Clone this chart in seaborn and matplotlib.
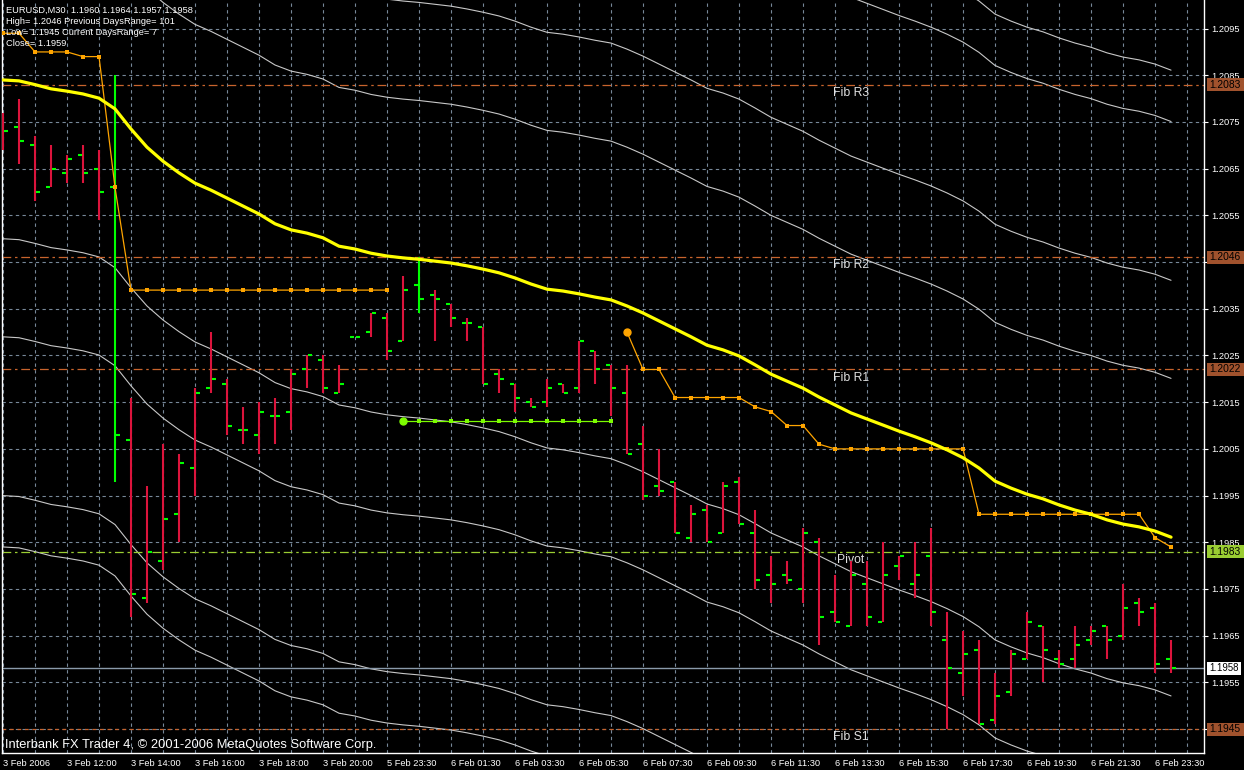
import numpy as np
import matplotlib.pyplot as plt
import matplotlib.transforms as mtrans
from matplotlib.patches import Rectangle
import seaborn as sns

# EURUSD M30 bars, 3 Feb 10:00 -> 6 Feb 24:00
opens = [1.2071, 1.2074, 1.2070, 1.2061, 1.2064, 1.2068, 1.2065, 1.2061, 1.2007, 1.1973,
         1.1981, 1.1991, 1.2001, 1.2018, 1.2019, 1.2009, 1.2008, 1.2012, 1.2013, 1.2022,
         1.2024, 1.2017, 1.2029, 1.2030, 1.2033, 1.2028, 1.2040, 1.2038, 1.2036, 1.2032,
         1.2031, 1.2021, 1.2019, 1.2015, 1.2015, 1.2019, 1.2018, 1.2026, 1.2023, 1.2017,
         1.2006, 1.1997, 1.1998, 1.1986, 1.1992, 1.1987, 1.1998, 1.1987, 1.1978, 1.1978,
         1.1975, 1.1985, 1.1970, 1.1967, 1.1976, 1.1968, 1.1980, 1.1976, 1.1982, 1.1964,
         1.1957, 1.1962, 1.1947, 1.1953, 1.1960, 1.1967, 1.1960, 1.1960, 1.1964, 1.1967,
         1.1965, 1.1972, 1.1971, 1.1960]
highs = [1.2077, 1.2080, 1.2072, 1.2070, 1.2068, 1.2070, 1.2069, 1.2085, 1.2016, 1.1997,
         1.2006, 1.2004, 1.2018, 1.2030, 1.2020, 1.2014, 1.2015, 1.2016, 1.2022, 1.2025,
         1.2025, 1.2023, 1.2029, 1.2034, 1.2034, 1.2042, 1.2046, 1.2039, 1.2036, 1.2033,
         1.2031, 1.2022, 1.2019, 1.2016, 1.2020, 1.2019, 1.2028, 1.2026, 1.2023, 1.2023,
         1.2010, 1.2005, 1.1998, 1.1993, 1.1993, 1.1998, 1.1999, 1.1992, 1.1982, 1.1981,
         1.1988, 1.1986, 1.1978, 1.1981, 1.1981, 1.1985, 1.1982, 1.1985, 1.1988, 1.1970,
         1.1966, 1.1964, 1.1957, 1.1962, 1.1970, 1.1967, 1.1962, 1.1967, 1.1967, 1.1967,
         1.1976, 1.1973, 1.1972, 1.1964]
lows = [1.2069, 1.2066, 1.2058, 1.2061, 1.2062, 1.2062, 1.2054, 1.1998, 1.1969, 1.1972,
        1.1979, 1.1985, 1.1995, 1.2017, 1.2008, 1.2006, 1.2004, 1.2006, 1.2009, 1.2018,
        1.2017, 1.2017, 1.2029, 1.2029, 1.2024, 1.2028, 1.2034, 1.2028, 1.2031, 1.2028,
        1.2019, 1.2017, 1.2013, 1.2014, 1.2014, 1.2017, 1.2017, 1.2019, 1.2012, 1.2004,
        1.1994, 1.1995, 1.1987, 1.1985, 1.1985, 1.1987, 1.1989, 1.1975, 1.1972, 1.1976,
        1.1972, 1.1963, 1.1968, 1.1967, 1.1967, 1.1968, 1.1977, 1.1973, 1.1967, 1.1945,
        1.1952, 1.1946, 1.1946, 1.1952, 1.1960, 1.1955, 1.1958, 1.1958, 1.1963, 1.1960,
        1.1964, 1.1967, 1.1957, 1.1957]
closes = [1.2073, 1.2071, 1.2060, 1.2065, 1.2067, 1.2064, 1.2060, 1.2008, 1.1974, 1.1983,
          1.1990, 1.2002, 1.2017, 1.2020, 1.2010, 1.2009, 1.2013, 1.2012, 1.2021, 1.2025,
          1.2018, 1.2019, 1.2029, 1.2034, 1.2026, 1.2039, 1.2037, 1.2037, 1.2033, 1.2032,
          1.2019, 1.2020, 1.2016, 1.2014, 1.2018, 1.2017, 1.2028, 1.2022, 1.2018, 1.2004,
          1.1995, 1.1996, 1.1987, 1.1991, 1.1985, 1.1997, 1.1989, 1.1977, 1.1976, 1.1977,
          1.1987, 1.1969, 1.1968, 1.1978, 1.1969, 1.1978, 1.1982, 1.1978, 1.1970, 1.1958,
          1.1961, 1.1946, 1.1952, 1.1961, 1.1968, 1.1962, 1.1959, 1.1963, 1.1966, 1.1964,
          1.1971, 1.1970, 1.1959, 1.1958]
green_bars = [7, 26]

# yellow moving average and its envelope distances
ma_values = [1.20840, 1.20838, 1.20830, 1.20821, 1.20816, 1.20810, 1.20801, 1.20778, 1.20735, 1.20696,
             1.20666, 1.20641, 1.20619, 1.20604, 1.20587, 1.20570, 1.20553, 1.20532, 1.20519, 1.20512,
             1.20502, 1.20484, 1.20478, 1.20469, 1.20463, 1.20459, 1.20456, 1.20452, 1.20448, 1.20442,
             1.20435, 1.20427, 1.20416, 1.20403, 1.20392, 1.20388, 1.20382, 1.20375, 1.20369, 1.20356,
             1.20341, 1.20324, 1.20307, 1.20290, 1.20272, 1.20262, 1.20249, 1.20230, 1.20210, 1.20195,
             1.20180, 1.20161, 1.20144, 1.20127, 1.20114, 1.20101, 1.20088, 1.20076, 1.20063, 1.20048,
             1.20031, 1.20009, 1.19981, 1.19966, 1.19953, 1.19943, 1.19930, 1.19919, 1.19910, 1.19898,
             1.19889, 1.19883, 1.19874, 1.19861]
envelope_offsets = [0.0034, 0.0055, 0.0089, 0.0100]

# orange step line (two pieces) and lime level
orange_a_start = 0
orange_a = [1.2094, 1.2094, 1.2090, 1.2090, 1.2090, 1.2089, 1.2089, 1.2061, 1.2039, 1.2039,
            1.2039, 1.2039, 1.2039, 1.2039, 1.2039, 1.2039, 1.2039, 1.2039, 1.2039, 1.2039,
            1.2039, 1.2039, 1.2039, 1.2039, 1.2039]
orange_b_start = 39
orange_b = [1.2030, 1.2022, 1.2022, 1.2016, 1.2016, 1.2016, 1.2016, 1.2016, 1.2014, 1.2013,
            1.2010, 1.2010, 1.2006, 1.2005, 1.2005, 1.2005, 1.2005, 1.2005, 1.2005, 1.2005,
            1.2005, 1.2005, 1.1991, 1.1991, 1.1991, 1.1991, 1.1991, 1.1991, 1.1991, 1.1991,
            1.1991, 1.1991, 1.1991, 1.1986, 1.1984]
lime_start = 25
lime_vals = [1.2011, 1.2011, 1.2011, 1.2011, 1.2011, 1.2011, 1.2011, 1.2011, 1.2011, 1.2011,
             1.2011, 1.2011, 1.2011, 1.2011]

fib_names = ['Fib R3', 'Fib R2', 'Fib R1', 'Pivot', 'Fib S1']
fib_levels = [1.2083, 1.2046, 1.2022, 1.1983, 1.1945]
current_price = 1.1958

time_labels = ['3 Feb 2006', '3 Feb 12:00', '3 Feb 14:00', '3 Feb 16:00', '3 Feb 18:00',
               '3 Feb 20:00', '5 Feb 23:30', '6 Feb 01:30', '6 Feb 03:30', '6 Feb 05:30',
               '6 Feb 07:30', '6 Feb 09:30', '6 Feb 11:30', '6 Feb 13:30', '6 Feb 15:30',
               '6 Feb 17:30', '6 Feb 19:30', '6 Feb 21:30', '6 Feb 23:30']
price_ticks = [1.1945, 1.1955, 1.1965, 1.1975, 1.1985, 1.1995, 1.2005, 1.2015,
               1.2025, 1.2035, 1.2045, 1.2055, 1.2065, 1.2075, 1.2085, 1.2095]
# tick labels that sit fully under a price box
hidden_ticks = [1.1945, 1.2045]

header = ['EURUSD,M30  1.1960 1.1964 1.1957 1.1958',
          'High= 1.2046 Previous DaysRange= 101',
          'Low= 1.1945 Current DaysRange= 7',
          'Close= 1.1959']
credit = 'Interbank FX Trader 4, \u00a9 2001-2006 MetaQuotes Software Corp.'

# ---- style
sns.set_theme(style='dark', rc={'axes.facecolor': 'black', 'figure.facecolor': 'black',
                                'axes.edgecolor': 'white', 'text.color': 'white'})
plt.rcParams['font.family'] = ['Liberation Sans', 'DejaVu Sans']

W, H = 1244, 770
fig = plt.figure(figsize=(W / 100, H / 100), dpi=100)
ax = fig.add_axes([2 / W, 17 / H, 1202 / W, 753 / H])

bars = np.arange(len(opens))
ma = np.array(ma_values)

# grid
grid_kw = dict(color='#778899', linestyle=(0, (3, 3)), linewidth=0.8)
ax.set_xticks(np.arange(0, 76, 2), minor=True)
ax.grid(True, which='minor', axis='x', **grid_kw)
ax.grid(True, which='major', axis='both', **grid_kw)
ax.set_axisbelow(True)

# envelopes around the MA
for off in envelope_offsets:
    for sign in (1, -1):
        sns.lineplot(x=bars, y=ma + sign * off, ax=ax, color='#C8C8C8',
                     linewidth=0.8, legend=False, zorder=2)

# fibo pivot lines
for name, lvl in zip(fib_names, fib_levels):
    col = '#9ACD32' if name == 'Pivot' else '#C8642D'
    ls = (0, (3, 3)) if name == 'Fib S1' else (0, (7, 3, 2, 3))
    ax.axhline(lvl, color=col, linestyle=ls, linewidth=0.9, zorder=2)
    ax.annotate(name, (53, lvl), xytext=(0, -1.5), textcoords='offset points',
                ha='center', va='top', color='#E0E0E0', fontsize=8.8, zorder=3)

ax.axhline(current_price, color='#8A9AAA', linewidth=1.0, zorder=2)

# OHLC bars
bar_cols = ['#00FF00' if i in green_bars else '#DC143C' for i in bars]
ax.vlines(bars, lows, highs, colors=bar_cols, linewidth=1.5, zorder=4)
ax.hlines(opens, bars - 0.32, bars - 0.06, colors='#00FF00', linewidth=1.5, zorder=4)
ax.hlines(closes, bars + 0.06, bars + 0.32, colors='#00FF00', linewidth=1.5, zorder=4)

# orange / lime step lines
xa = np.arange(orange_a_start, orange_a_start + len(orange_a))
xb = np.arange(orange_b_start, orange_b_start + len(orange_b))
xl = np.arange(lime_start, lime_start + len(lime_vals))
for xs, ys, col in [(xa, orange_a, '#FFA500'), (xb, orange_b, '#FFA500'), (xl, lime_vals, '#7CFC00')]:
    sns.lineplot(x=xs, y=ys, ax=ax, color=col, linewidth=0.9, marker='s', markersize=2.6,
                 markeredgewidth=0, legend=False, zorder=5)
ax.plot(xb[0], orange_b[0], 'o', color='#FFA500', markersize=5, zorder=6)
ax.plot(xl[0], lime_vals[0], 'o', color='#7CFC00', markersize=5, zorder=6)

# moving average
sns.lineplot(x=bars, y=ma, ax=ax, color='#FFFF00', linewidth=2.3, legend=False, zorder=6)

# axes
ax.set_xlim(-0.0625, 75.06)
ax.set_ylim(1.193988, 1.210112)
ax.set_xticks(np.arange(0, 73, 4))
ax.set_xticklabels(time_labels, ha='left')
ax.set_yticks(price_ticks)
ax.set_yticklabels(['' if p in hidden_ticks else f'{p:.4f}' for p in price_ticks])
ax.yaxis.tick_right()
ax.tick_params(axis='x', which='major', colors='white', length=3, width=0.8, pad=1.5, labelsize=6.7)
ax.tick_params(axis='x', which='minor', length=0)
ax.tick_params(axis='y', colors='white', length=3, width=0.8, pad=2, labelsize=6.7)
ax.set_xlabel('')
ax.set_ylabel('')
for side in ['left', 'bottom', 'right']:
    ax.spines[side].set_visible(True)
    ax.spines[side].set_color('white')
    ax.spines[side].set_linewidth(1.0)
ax.spines['top'].set_visible(False)

# price boxes on the right axis
box_tr = mtrans.blended_transform_factory(fig.transFigure, ax.transData)
box_h = 13 / 46700
box_items = [(lvl, '#9ACD32' if n == 'Pivot' else '#A0522D', 37, 7.4)
             for n, lvl in zip(fib_names, fib_levels)]
box_items.append((current_price, 'white', 34, 6.9))
for lvl, col, wpx, fs in box_items:
    ax.add_patch(Rectangle((1207 / W, lvl - box_h / 2), wpx / W, box_h, transform=box_tr,
                           facecolor=col, edgecolor='none', clip_on=False, zorder=7))
    ax.text(1209.5 / W, lvl, f'{lvl:.4f}', transform=box_tr, ha='left', va='center',
            color='black', fontsize=fs, clip_on=False, zorder=8)

# info texts
for k, line in enumerate(header):
    fig.text(6 / W, 1 - (10 + 11.2 * k) / H, line, color='white', fontsize=6.7, va='center')
fig.text(5 / W, 1 - 745 / H, credit, color='white', fontsize=9.3, va='center')

fig.savefig('out.png', dpi=100, facecolor='black')
